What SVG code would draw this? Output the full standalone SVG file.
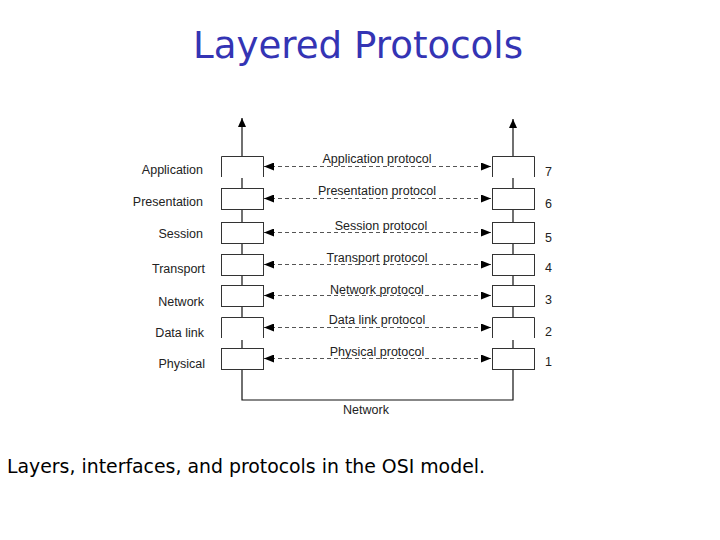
<svg xmlns="http://www.w3.org/2000/svg" width="720" height="540" viewBox="0 0 720 540">
<style>
.lbl{font-family:"Liberation Sans",Arial,sans-serif;font-size:12.5px;fill:#222}
.box{fill:#fff;stroke:#333;stroke-width:1}
.side{fill:none;stroke:#333;stroke-width:1}
.line{fill:none;stroke:#111;stroke-width:1.2}
.dash{fill:none;stroke:#555;stroke-width:1;stroke-dasharray:4,3}
.title{font-family:"Comic Sans MS","DejaVu Sans",sans-serif;font-size:38px;fill:#3434B4}
.cap{font-family:"Comic Sans MS","DejaVu Sans",sans-serif;font-size:19px;fill:#000}
</style>
<defs>
<marker id="ah" viewBox="0 0 10 10" refX="10" refY="5" markerUnits="userSpaceOnUse" markerWidth="10" markerHeight="8" orient="auto-start-reverse" preserveAspectRatio="none">
<path d="M0,0 L10,5 L0,10 z" fill="#000"/>
</marker>
<marker id="up" viewBox="0 0 10 10" refX="10" refY="5" markerUnits="userSpaceOnUse" markerWidth="9" markerHeight="8" orient="auto" preserveAspectRatio="none">
<path d="M0,0 L10,5 L0,10 z" fill="#000"/>
</marker>
</defs>
<rect width="720" height="540" fill="#fff"/>
<text class="title" x="358" y="58" text-anchor="middle" textLength="330" lengthAdjust="spacingAndGlyphs">Layered Protocols</text>

<g id="connectors">
<line class="line" x1="242" y1="156" x2="242" y2="118" marker-end="url(#up)"/>
<line class="line" x1="513" y1="156" x2="513" y2="119" marker-end="url(#up)"/>
<line class="line" x1="242" y1="178" x2="242" y2="188"/>
<line class="line" x1="242" y1="209" x2="242" y2="222"/>
<line class="line" x1="242" y1="243" x2="242" y2="254"/>
<line class="line" x1="242" y1="275" x2="242" y2="285"/>
<line class="line" x1="242" y1="306" x2="242" y2="317"/>
<line class="line" x1="242" y1="340" x2="242" y2="348"/>
<line class="line" x1="513" y1="178" x2="513" y2="188"/>
<line class="line" x1="513" y1="209" x2="513" y2="222"/>
<line class="line" x1="513" y1="243" x2="513" y2="254"/>
<line class="line" x1="513" y1="275" x2="513" y2="285"/>
<line class="line" x1="513" y1="306" x2="513" y2="317"/>
<line class="line" x1="513" y1="340" x2="513" y2="348"/>
<polyline class="line" points="242,369 242,400 513,400 513,369"/>
<line class="dash" x1="264" y1="166.5" x2="491" y2="166.5" marker-start="url(#ah)" marker-end="url(#ah)"/>
<line class="dash" x1="264" y1="198.5" x2="491" y2="198.5" marker-start="url(#ah)" marker-end="url(#ah)"/>
<line class="dash" x1="264" y1="232.5" x2="491" y2="232.5" marker-start="url(#ah)" marker-end="url(#ah)"/>
<line class="dash" x1="264" y1="264.5" x2="491" y2="264.5" marker-start="url(#ah)" marker-end="url(#ah)"/>
<line class="dash" x1="264" y1="295.5" x2="491" y2="295.5" marker-start="url(#ah)" marker-end="url(#ah)"/>
<line class="dash" x1="264" y1="327.5" x2="491" y2="327.5" marker-start="url(#ah)" marker-end="url(#ah)"/>
<line class="dash" x1="264" y1="358.5" x2="491" y2="358.5" marker-start="url(#ah)" marker-end="url(#ah)"/>
<text class="lbl" x="377" y="163" text-anchor="middle">Application protocol</text>
<text class="lbl" x="377" y="195" text-anchor="middle">Presentation protocol</text>
<text class="lbl" x="381" y="230" text-anchor="middle">Session protocol</text>
<text class="lbl" x="377" y="262" text-anchor="middle">Transport protocol</text>
<text class="lbl" x="377" y="294" text-anchor="middle">Network protocol</text>
<text class="lbl" x="377" y="324" text-anchor="middle">Data link protocol</text>
<text class="lbl" x="377" y="356" text-anchor="middle">Physical protocol</text>
<text class="lbl" x="366" y="414" text-anchor="middle">Network</text>
</g>

<g id="left-application"><path class="side" d="M221.5,177 V156.5 H263.5 V177"/><text class="lbl" x="203" y="174" text-anchor="end">Application</text></g>
<g id="left-presentation"><rect class="box" x="221.5" y="188.5" width="42" height="21"/><text class="lbl" x="203" y="206" text-anchor="end">Presentation</text></g>
<g id="left-session"><rect class="box" x="221.5" y="222.5" width="42" height="21"/><text class="lbl" x="203" y="238" text-anchor="end">Session</text></g>
<g id="left-transport"><rect class="box" x="221.5" y="254.5" width="42" height="21"/><text class="lbl" x="205" y="273" text-anchor="end">Transport</text></g>
<g id="left-network"><rect class="box" x="221.5" y="285.5" width="42" height="21"/><text class="lbl" x="204" y="306" text-anchor="end">Network</text></g>
<g id="left-datalink"><path class="side" d="M221.5,338 V317.5 H263.5 V338"/><text class="lbl" x="204" y="337" text-anchor="end">Data link</text></g>
<g id="left-physical"><rect class="box" x="221.5" y="348.5" width="42" height="21"/><text class="lbl" x="205" y="368" text-anchor="end">Physical</text></g>

<g id="right-7"><path class="side" d="M492.5,177 V156.5 H534.5 V177"/><text class="lbl" x="545" y="176">7</text></g>
<g id="right-6"><rect class="box" x="492.5" y="188.5" width="42" height="21"/><text class="lbl" x="545" y="208">6</text></g>
<g id="right-5"><rect class="box" x="492.5" y="222.5" width="42" height="21"/><text class="lbl" x="545" y="242">5</text></g>
<g id="right-4"><rect class="box" x="492.5" y="254.5" width="42" height="21"/><text class="lbl" x="545" y="272">4</text></g>
<g id="right-3"><rect class="box" x="492.5" y="285.5" width="42" height="21"/><text class="lbl" x="545" y="304">3</text></g>
<g id="right-2"><path class="side" d="M492.5,338 V317.5 H534.5 V338"/><text class="lbl" x="545" y="336">2</text></g>
<g id="right-1"><rect class="box" x="492.5" y="348.5" width="42" height="21"/><text class="lbl" x="545" y="366">1</text></g>

<text class="cap" x="7" y="473" textLength="478" lengthAdjust="spacingAndGlyphs">Layers, interfaces, and protocols in the OSI model.</text>
</svg>
